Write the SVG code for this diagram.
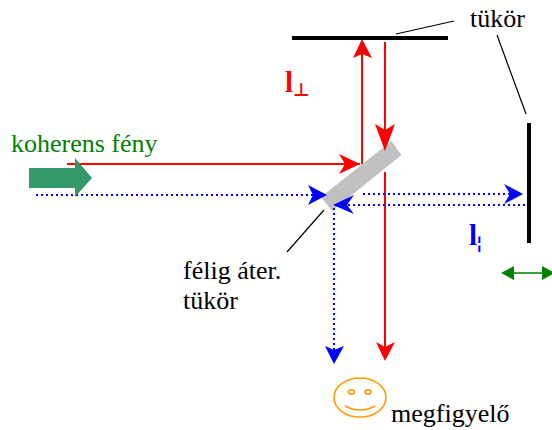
<svg xmlns="http://www.w3.org/2000/svg" width="552" height="430" viewBox="0 0 552 430">
<style>
text{font-family:"Liberation Serif","Times New Roman",serif;font-size:26px;fill:#000}
.red{stroke:#f00;stroke-width:2;fill:none}
.blue{stroke:#00f;stroke-width:2;stroke-dasharray:2 3;fill:none}
.thin{stroke:#000;stroke-width:1.2;fill:none}
.rh{fill:#f00}.bh{fill:#00f}
.face{fill:none;stroke:#f90;stroke-width:1.6}
</style>
<rect width="552" height="430" fill="#fff"/>
<g id="mirror-top"><rect x="292" y="36" width="156" height="4" fill="#000"/></g>
<g id="mirror-right"><rect x="527" y="123" width="4" height="120" fill="#000"/></g>
<g id="beam-splitter"><polygon points="391.5,141 401.500,155 332,211 321,197" fill="#c0c0c0"/></g>
<g id="connectors">
<path class="thin" d="M396 34L454 21M497 35L526 114M287 252L324 210"/>
<path class="red" d="M67 164H360M362 164V50M385 42V140M385 172V350"/>
<path class="rh" d="M362 39L372 58L362 54L353 58ZM385 151L375 124L385 130L395 124ZM360 164L339 154L345 164L339 174ZM385 361L376 342L385 347L395 342Z"/>
<path class="blue" d="M36 195H318M363 194H515M338 205H527M334 208V352"/>
<path class="bh" d="M327 195L308 185L313 195L308 205ZM523 194L504 184L510 194L504 204ZM333 205L354 195L347 205L354 214ZM334 364L325 346L334 350L344 346Z"/>
<path d="M505 273H547" stroke="#008000" stroke-width="1.500" fill="none"/>
<path d="M501 273L514 266V280ZM555 273L542 266V280Z" fill="#008000"/>
</g>
<g id="source"><polygon points="29,168 75,168 75,158 92,178 75,197 75,188 29,188" fill="#339966"/></g>
<g id="observer">
<ellipse class="face" cx="360" cy="397.500" rx="26" ry="19.500"/>
<ellipse class="face" cx="351.500" cy="392" rx="3" ry="2.200"/>
<ellipse class="face" cx="368" cy="392" rx="3" ry="2.200"/>
<path class="face" d="M345 406Q360 414 375 406"/>
</g>
<g id="labels">
<text x="470" y="27">tükör</text>
<text x="11" y="152" style="fill:#008000">koherens fény</text>
<text x="183" y="279">félig áter.</text>
<text x="183" y="309">tükör</text>
<text x="391" y="422">megfigyelő</text>
<text x="285" y="92" style="fill:#f00;font-weight:bold;font-size:29px">l</text>
<text x="293" y="96" style="fill:#f00;font-weight:bold;font-size:18px;font-family:'DejaVu Sans',sans-serif">⊥</text>
<text x="469" y="245" style="fill:#00f;font-weight:bold;font-size:29px">l</text>
<text x="476" y="249" style="fill:#00f;font-weight:bold;font-size:18px;font-family:'DejaVu Sans',sans-serif">¦</text>
</g>
</svg>
